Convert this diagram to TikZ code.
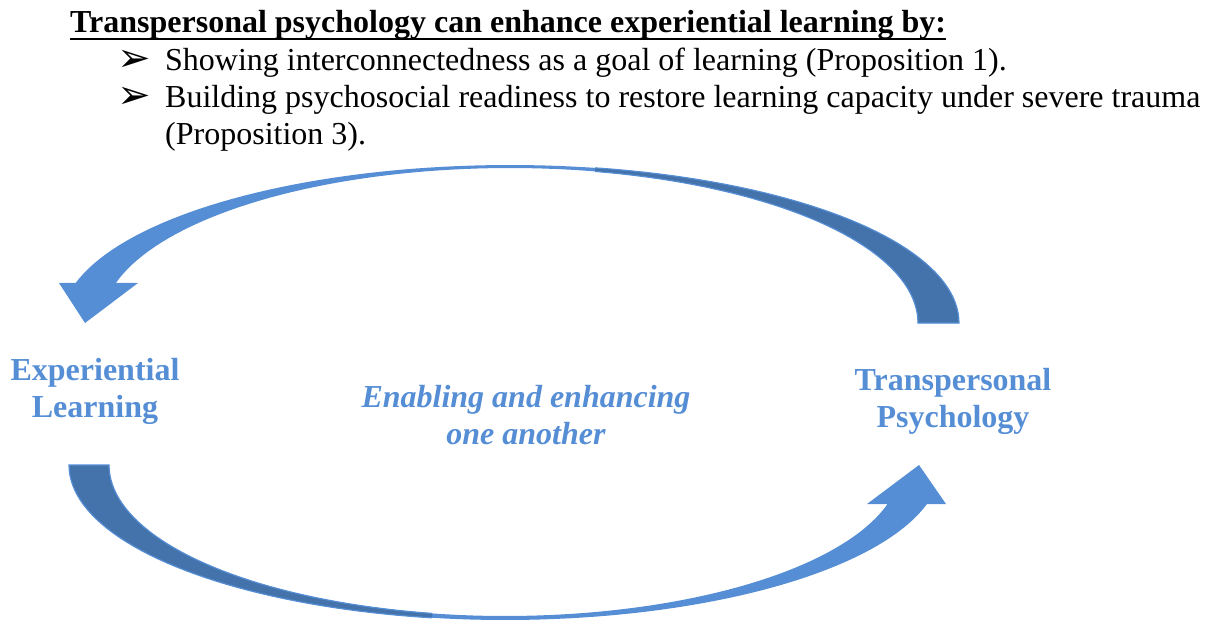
\documentclass[tikz,border=0pt]{standalone}
\usepackage{fontspec}
\setmainfont{Liberation Serif}
\newfontfamily\symfont{DejaVu Sans}
\usetikzlibrary{calc}
\definecolor{arrowlight}{RGB}{85,142,213}
\definecolor{arrowdark}{RGB}{68,114,170}

% Curved band arrows built from two elliptic arcs plus an arrow head
\def\toparrowpath{plot[domain=0:-165.3,samples=90,variable=\t]({510+449*cos(\t)},{323+158*sin(\t)})
  -- (59,283) -- (85,323) -- (138,283)
  -- plot[domain=-165.0:0,samples=90,variable=\t]({510+408*cos(\t)},{323+155*sin(\t)}) -- cycle}
\def\bottomarrowpath{plot[domain=180:14.57,samples=90,variable=\t]({505+436*cos(\t)},{465+155*sin(\t)})
  -- (946,504) -- (919,465) -- (867,504)
  -- plot[domain=14.97:180,samples=90,variable=\t]({505+396*cos(\t)},{465+151*sin(\t)}) -- cycle}

\begin{document}
\begin{tikzpicture}[x=1pt,y=-1pt,
  bodytext/.style={font=\fontsize{32}{37}\selectfont, inner sep=0pt, anchor=base west},
  bulletmark/.style={font=\symfont\fontsize{40}{37}\selectfont, inner sep=0pt, anchor=base west},
  cyclelabel/.style={font=\fontsize{32}{37}\selectfont\bfseries, text=arrowlight, align=center, inner sep=0pt},
  bandfront/.style={fill=arrowlight},
  bandback/.style={fill=arrowdark, draw=arrowlight, line width=1.2pt}]
\useasboundingbox (0,0) rectangle (1216,622);

% heading and bullet list
\node[bodytext, font=\fontsize{32}{37}\selectfont\bfseries] (title) at (70,32)
  {Transpersonal psychology can enhance experiential learning by:};
\draw[line width=2.4pt] ($(title.base west)+(0,7)$) -- ($(title.base east)+(0,7)$);
\node[bulletmark] (b1) at (117,71) {➢};
\node[bodytext] (t1) at (165,70) {Showing interconnectedness as a goal of learning (Proposition 1).};
\node[bulletmark] (b2) at (117,108) {➢};
\node[bodytext] (t2) at (165,107) {Building psychosocial readiness to restore learning capacity under severe trauma};
\node[bodytext] (t3) at (165,144) {(Proposition 3).};

% upper arrow: light front part, darker back part near its tail
\fill[bandfront] \toparrowpath;
\begin{scope}
  \clip (595,0) rectangle (1216,622);
  \path[bandback] \toparrowpath;
\end{scope}

% lower arrow
\fill[bandfront] \bottomarrowpath;
\begin{scope}
  \clip (0,0) rectangle (432,622);
  \path[bandback] \bottomarrowpath;
\end{scope}

% labels
\node[cyclelabel] (exp) at (95,391) {Experiential\\Learning};
\node[cyclelabel] (trans) at (953,401) {Transpersonal\\Psychology};
\node[cyclelabel, font=\fontsize{32}{37}\selectfont\bfseries\itshape] (mid) at (526,415) {Enabling and enhancing\\one another};
\end{tikzpicture}
\end{document}
